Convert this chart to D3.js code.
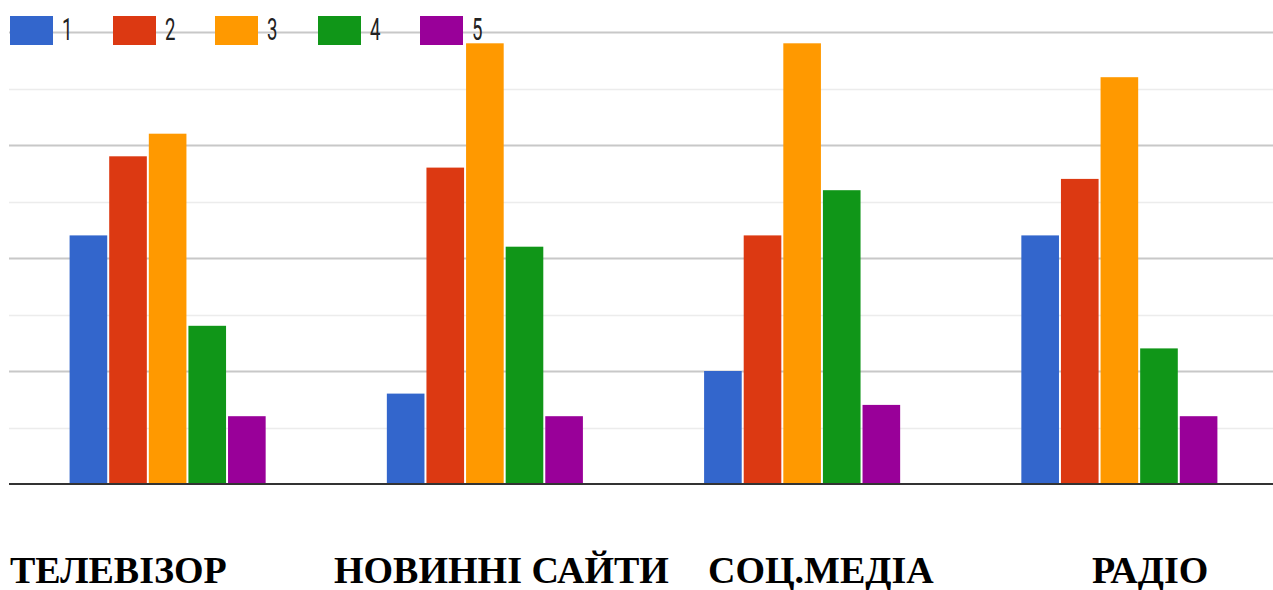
<!DOCTYPE html>
<html>
<head>
<meta charset="utf-8">
<script src="https://cdn.jsdelivr.net/npm/d3@7"></script>
<style>
  html, body { margin: 0; padding: 0; background: #fff; }
  svg { display: block; }
</style>
</head>
<body>
<svg id="chart" width="1273" height="590"></svg>
<script>
// Categories (media sources) and rating series 1..5
const categories = ["ТЕЛЕВІЗОР", "НОВИННІ САЙТИ", "СОЦ.МЕДІА", "РАДІО"];
const seriesNames = ["1", "2", "3", "4", "5"];
const series1 = [22, 8, 10, 22];
const series2 = [29, 28, 22, 27];
const series3 = [31, 39, 39, 36];
const series4 = [14, 21, 26, 12];
const series5 = [6, 6, 7, 6];
const majorTicks = [10, 20, 30, 40];
const minorTicks = [5, 15, 25, 35];

const seriesValues = [series1, series2, series3, series4, series5];
const colors = ["#3366cc", "#dc3912", "#ff9900", "#109618", "#990099"];

// Layout
const plot = { left: 9, right: 1278, top: 32, bottom: 484 };
const labelX = [10, 334, 708, 1092];
const labelY = 583;

const svg = d3.select("#chart");

const x0 = d3.scaleBand()
  .domain(categories)
  .range([plot.left, plot.right])
  .paddingInner(0.382)
  .paddingOuter(0.191);

const x1 = d3.scaleBand()
  .domain(seriesNames)
  .range([0, x0.bandwidth()])
  .paddingInner(0.05);

const y = d3.scaleLinear()
  .domain([0, 40])
  .range([plot.bottom, plot.top]);

// Minor gridlines
svg.append("g")
  .attr("class", "grid-minor")
  .selectAll("line")
  .data(minorTicks)
  .join("line")
  .attr("x1", plot.left).attr("x2", 1273)
  .attr("y1", d => Math.round(y(d)) + 0.5)
  .attr("y2", d => Math.round(y(d)) + 0.5)
  .attr("stroke", "#ececec")
  .attr("stroke-width", 1.5);

// Major gridlines via axis
const yAxis = d3.axisLeft(y)
  .tickValues(majorTicks)
  .tickSize(-(1273 - plot.left))
  .tickFormat("");
svg.append("g")
  .attr("class", "grid-major")
  .attr("transform", `translate(${plot.left},0)`)
  .call(yAxis)
  .call(g => g.select(".domain").remove())
  .call(g => g.selectAll("line").attr("stroke", "#c8c8c8").attr("stroke-width", 2));

// Bars
const groups = svg.append("g")
  .selectAll("g")
  .data(categories)
  .join("g")
  .attr("transform", d => `translate(${x0(d)},0)`);

groups.selectAll("rect")
  .data((d, i) => seriesNames.map((s, k) => ({ s, k, v: seriesValues[k][i] })))
  .join("rect")
  .attr("x", d => x1(d.s))
  .attr("width", x1.bandwidth())
  .attr("y", d => y(d.v))
  .attr("height", d => y(0) - y(d.v))
  .attr("fill", d => colors[d.k]);

// Baseline
svg.append("line")
  .attr("x1", plot.left).attr("x2", 1273)
  .attr("y1", y(0)).attr("y2", y(0))
  .attr("stroke", "#333")
  .attr("stroke-width", 2);

// Legend
const legendX = [10, 113, 215, 318, 420];
const legend = svg.append("g").attr("class", "legend");
const items = legend.selectAll("g")
  .data(seriesNames)
  .join("g")
  .attr("transform", (d, i) => `translate(${legendX[i]},0)`);
items.append("rect")
  .attr("x", 0).attr("y", 16)
  .attr("width", 43).attr("height", 29)
  .attr("fill", (d, i) => colors[i]);
items.append("text")
  .attr("transform", "translate(52,40) scale(0.6,1)")
  .attr("font-family", "Roboto, Arial, sans-serif")
  .attr("font-size", 31)
  .attr("fill", "#222")
  .text(d => d);

// Category labels
svg.append("g")
  .selectAll("text")
  .data(categories)
  .join("text")
  .attr("x", (d, i) => labelX[i])
  .attr("y", labelY)
  .attr("font-family", "Liberation Serif")
  .attr("font-weight", "bold")
  .attr("font-size", 38)
  .attr("fill", "#000")
  .text(d => d);
</script>
</body>
</html>
